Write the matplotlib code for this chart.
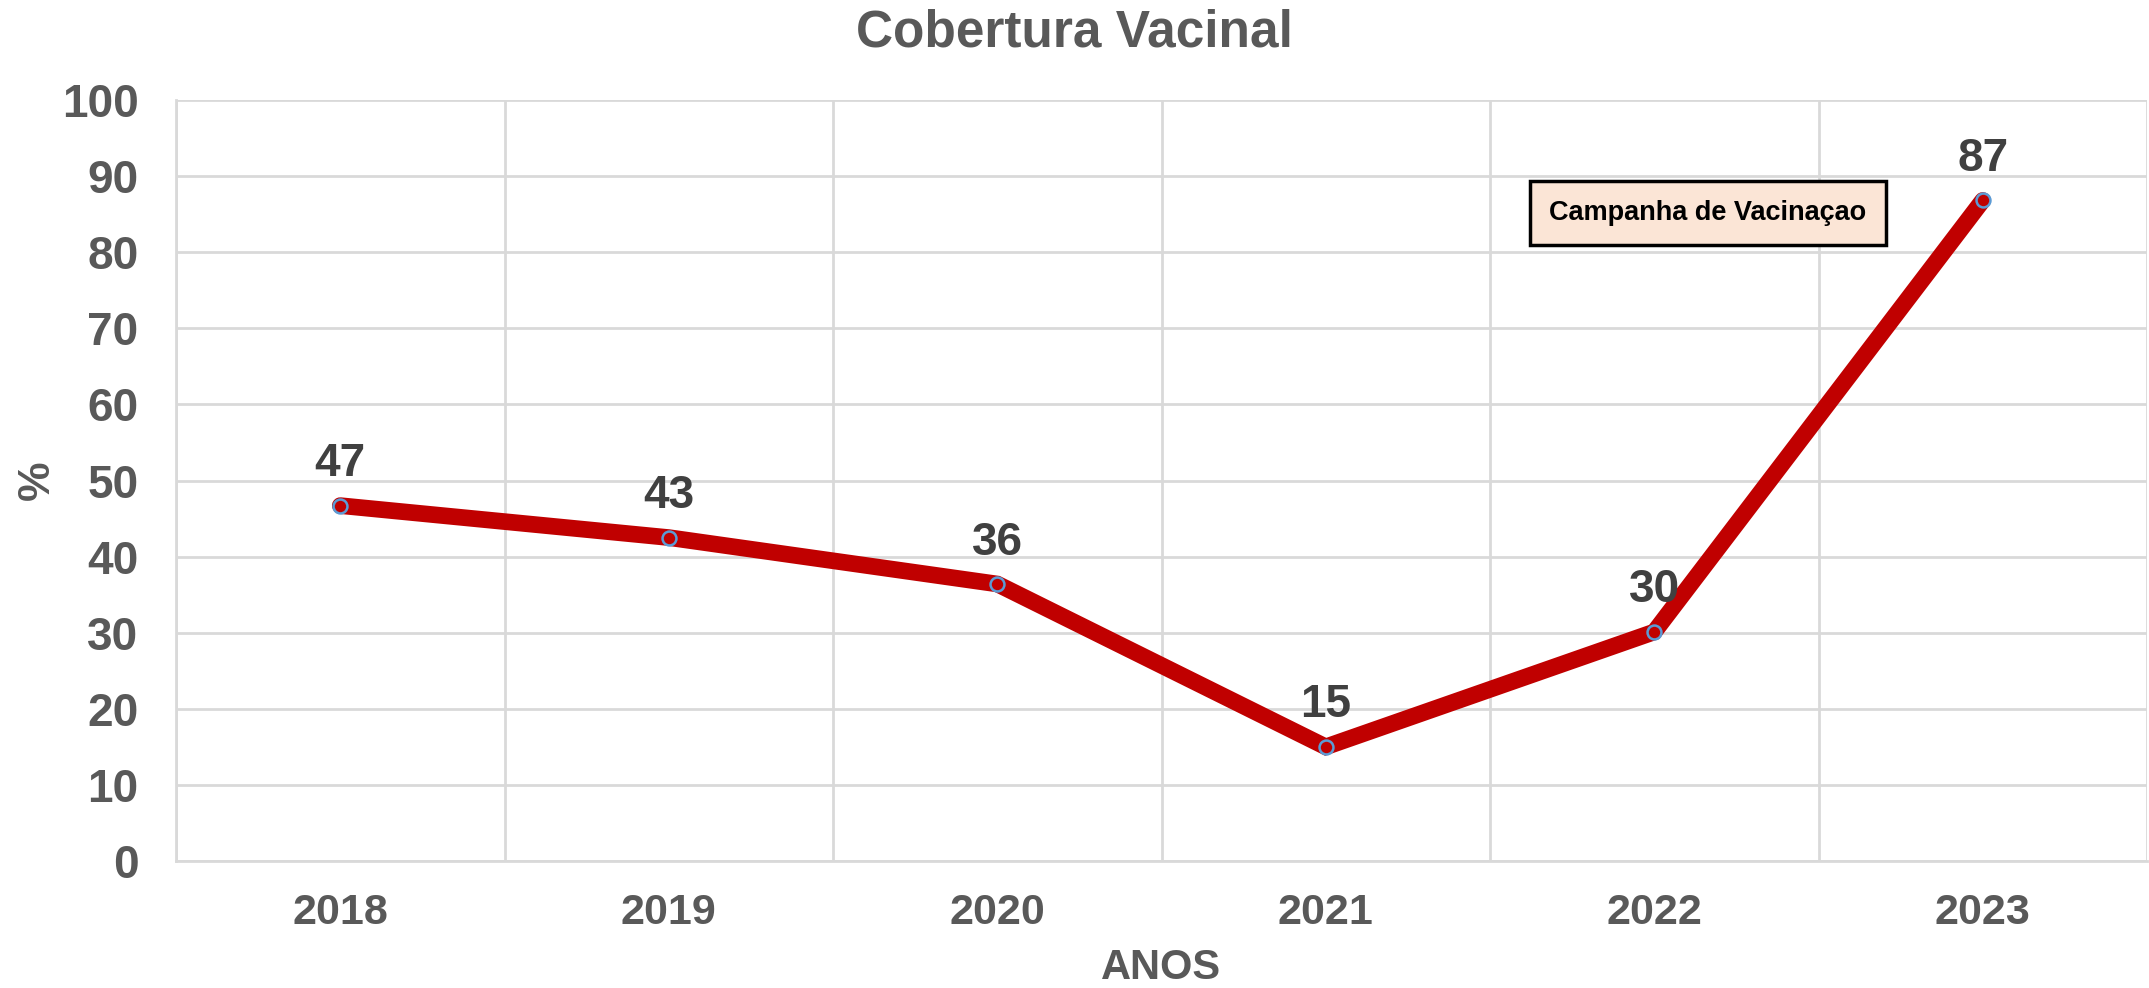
import numpy as np
import matplotlib.pyplot as plt

plt.rcParams['font.family'] = ['Liberation Sans', 'DejaVu Sans']

# Data
anos = ['2018', '2019', '2020', '2021', '2022', '2023']
cobertura = [46.7, 42.5, 36.4, 15.0, 30.1, 86.8]
rotulos = ['47', '43', '36', '15', '30', '87']

W, H = 2149, 988
fig = plt.figure(figsize=(W / 100, H / 100), dpi=100)
ax = fig.add_axes([176 / W, 1 - 861 / H, (2147 - 176) / W, (861 - 100) / H])

x = np.arange(len(anos))
ax.plot(x, cobertura, color='#C00000', linewidth=12, solid_capstyle='round',
        solid_joinstyle='miter', zorder=3)
ax.plot(x, cobertura, linestyle='none', marker='o', markersize=10,
        markerfacecolor='#C00000', markeredgecolor='#5B9BD5', markeredgewidth=1.8, zorder=4)

for xi, yi, lab in zip(x, cobertura, rotulos):
    ax.annotate(lab, (xi, yi), xytext=(0, 14), textcoords='offset points',
                ha='center', va='bottom', fontsize=33, fontweight='bold', color='#404040', zorder=5)

ax.set_xlim(-0.5, len(anos) - 0.5)
ax.set_ylim(0, 100)
ax.set_yticks(np.arange(0, 101, 10))
ax.set_xticks(x)
ax.set_xticklabels(anos)
ax.set_xticks(np.arange(-0.5, len(anos), 1), minor=True)

ax.grid(axis='y', which='major', color='#D9D9D9', linewidth=2)
ax.grid(axis='x', which='minor', color='#D9D9D9', linewidth=2)
ax.set_axisbelow(True)
for s in ['top', 'right']:
    ax.spines[s].set_visible(False)
for s in ['left', 'bottom']:
    ax.spines[s].set_color('#D9D9D9')
    ax.spines[s].set_linewidth(2)

ax.tick_params(axis='both', which='both', length=0, labelcolor='#595959')
ax.tick_params(axis='y', pad=27, labelsize=33)
ax.tick_params(axis='x', pad=23, labelsize=31)
for t in ax.get_xticklabels() + ax.get_yticklabels():
    t.set_fontweight('bold')

ax.set_xlabel('ANOS', fontsize=30, fontweight='bold', color='#595959', va='center')
ax.xaxis.set_label_coords(0.5, (861 - 968) / 761)
ax.set_ylabel('%', fontsize=32, fontweight='bold', color='#595959', va='center')
ax.yaxis.set_label_coords((37 - 176) / 1971, 0.5)
fig.text(0.5, 1 - 33 / H, 'Cobertura Vacinal', ha='center', va='center',
         fontsize=37, fontweight='bold', color='#595959')

ax.text((1708 - 176) / 1971, (861 - 213) / 761, 'Campanha de Vacinaçao', transform=ax.transAxes,
        ha='center', va='center', fontsize=19.5, fontweight='bold', color='black',
        bbox=dict(boxstyle='square,pad=0.7', facecolor='#FBE5D6', edgecolor='black', linewidth=2.5))

fig.savefig('out.png', dpi=100)
